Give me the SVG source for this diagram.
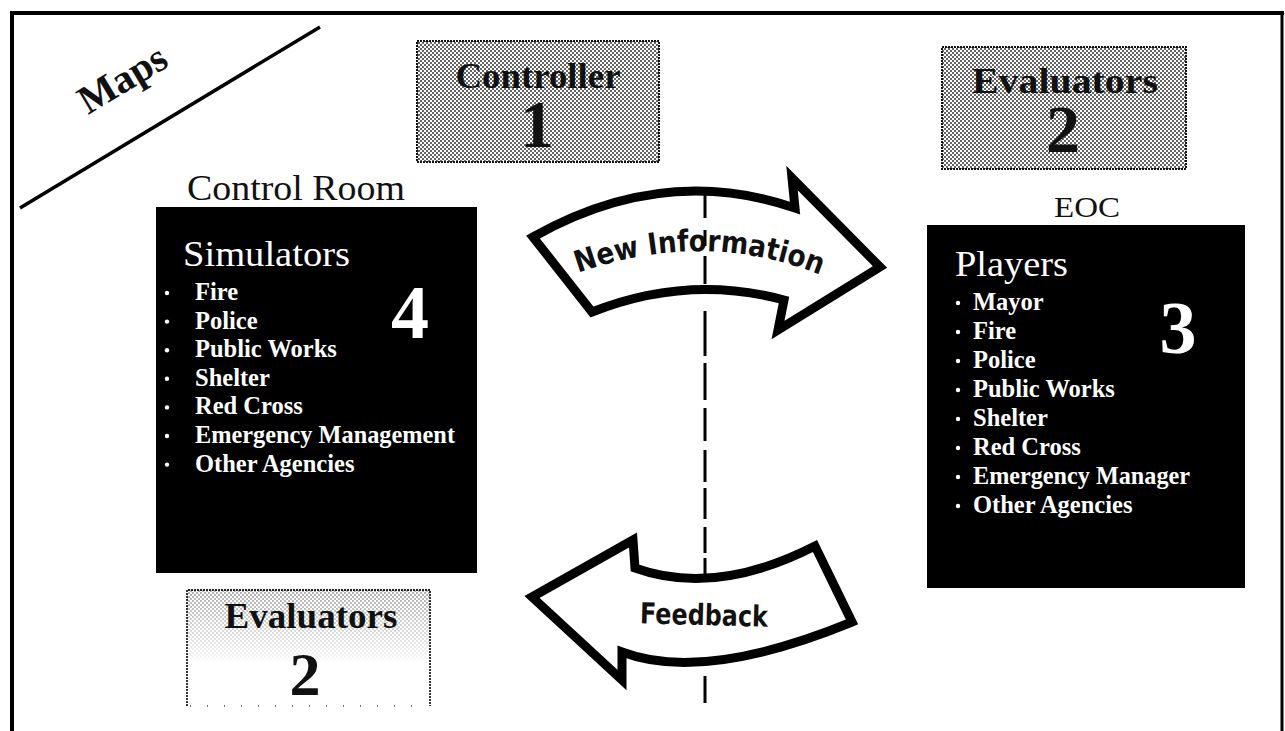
<svg xmlns="http://www.w3.org/2000/svg" width="1285" height="731" viewBox="0 0 1285 731">
<style>
.serif{font-family:"Liberation Serif","Times New Roman",serif}
.hdr{font-family:"Liberation Serif",serif;font-size:35px;font-weight:bold;fill:#111;text-anchor:middle}
.num{font-family:"Liberation Serif",serif;font-weight:bold;fill:#111;text-anchor:middle}
.wh{font-family:"Liberation Serif",serif;fill:#fff}
.item{font-family:"Liberation Serif",serif;font-size:24.5px;font-weight:bold;fill:#fff}
.box{fill:#000}
.ht{fill:url(#ht);stroke:#111;stroke-width:2;stroke-dasharray:2 1}
.arrow{fill:#fff;stroke:#000;stroke-width:9;stroke-linejoin:miter;stroke-miterlimit:10}
.atext{font-family:"DejaVu Sans",sans-serif;font-weight:bold;fill:#111}
.dash{stroke:#000;stroke-width:3}
</style>
<defs>
<pattern id="ht" width="4" height="4" patternUnits="userSpaceOnUse">
<rect width="4" height="4" fill="#fff"/>
<circle cx="1" cy="1" r="0.95" fill="#222"/>
<circle cx="3" cy="3" r="0.95" fill="#222"/>
</pattern>
<pattern id="htl" width="4" height="4" patternUnits="userSpaceOnUse">
<rect width="4" height="4" fill="#fff"/>
<circle cx="1" cy="1" r="0.9" fill="#888"/>
<circle cx="3" cy="3" r="0.9" fill="#888"/>
</pattern>
<linearGradient id="fade" x1="0" y1="0" x2="0" y2="1">
<stop offset="0" stop-color="#fff" stop-opacity="1"/>
<stop offset="0.65" stop-color="#fff" stop-opacity="0"/>
</linearGradient>
<mask id="fm" maskUnits="userSpaceOnUse" x="187" y="590" width="243" height="117">
<rect x="187" y="590" width="243" height="117" fill="url(#fade)"/>
</mask>
<path id="niPath" d="M578,273 Q707,227 828,278"/>
</defs>

<g id="frame" stroke="#000" fill="none">
<line x1="10" y1="13" x2="1284" y2="13" stroke-width="4"/>
<line x1="12" y1="11" x2="12" y2="731" stroke-width="4"/>
<line x1="1282" y1="13" x2="1282" y2="731" stroke-width="3"/>
</g>

<g id="maps">
<line x1="20" y1="208" x2="320" y2="27" stroke="#000" stroke-width="3.5"/>
<text class="serif" font-size="40" font-weight="bold" fill="#111" transform="translate(88,115) rotate(-31)" textLength="96" lengthAdjust="spacingAndGlyphs">Maps</text>
</g>

<g id="controller">
<rect class="ht" x="417" y="41" width="242" height="121"/>
<text class="hdr" x="538" y="88" textLength="165" lengthAdjust="spacingAndGlyphs">Controller</text>
<text class="num" x="537" y="147" font-size="68">1</text>
</g>

<g id="evaluators-top">
<rect class="ht" x="942" y="47" width="244" height="122"/>
<text class="hdr" x="1065" y="93" textLength="186" lengthAdjust="spacingAndGlyphs">Evaluators</text>
<text class="num" x="1063" y="152" font-size="68">2</text>
</g>

<g id="simulators">
<text class="serif" x="296" y="200" font-size="36" text-anchor="middle" fill="#111" textLength="218" lengthAdjust="spacingAndGlyphs">Control Room</text>
<rect class="box" x="156" y="207" width="321" height="366"/>
<text class="wh" x="183" y="266" font-size="36" textLength="167" lengthAdjust="spacingAndGlyphs">Simulators</text>
<text class="wh" x="410" y="338" font-size="76" font-weight="bold" text-anchor="middle">4</text>
<g fill="#fff">
<circle cx="167" cy="293" r="2.2"/><circle cx="167" cy="321.6" r="2.2"/><circle cx="167" cy="350.2" r="2.2"/><circle cx="167" cy="378.8" r="2.2"/><circle cx="167" cy="407.4" r="2.2"/><circle cx="167" cy="436" r="2.2"/><circle cx="167" cy="464.6" r="2.2"/>
</g>
<text class="item" x="195" y="300">Fire</text>
<text class="item" x="195" y="328.6">Police</text>
<text class="item" x="195" y="357.2">Public Works</text>
<text class="item" x="195" y="385.8">Shelter</text>
<text class="item" x="195" y="414.4">Red Cross</text>
<text class="item" x="195" y="443" textLength="260" lengthAdjust="spacingAndGlyphs">Emergency Management</text>
<text class="item" x="195" y="471.6">Other Agencies</text>
</g>

<g id="players">
<text class="serif" x="1087" y="217" font-size="30" text-anchor="middle" fill="#111" textLength="66" lengthAdjust="spacingAndGlyphs">EOC</text>
<rect class="box" x="927" y="225" width="318" height="363"/>
<text class="wh" x="955" y="276" font-size="36" textLength="113" lengthAdjust="spacingAndGlyphs">Players</text>
<text class="wh" x="1178" y="353" font-size="74" font-weight="bold" text-anchor="middle">3</text>
<g fill="#fff">
<circle cx="958" cy="303" r="2.2"/><circle cx="958" cy="332" r="2.2"/><circle cx="958" cy="361" r="2.2"/><circle cx="958" cy="390" r="2.2"/><circle cx="958" cy="419" r="2.2"/><circle cx="958" cy="448" r="2.2"/><circle cx="958" cy="477" r="2.2"/><circle cx="958" cy="506" r="2.2"/>
</g>
<text class="item" x="973" y="310">Mayor</text>
<text class="item" x="973" y="339">Fire</text>
<text class="item" x="973" y="368">Police</text>
<text class="item" x="973" y="397">Public Works</text>
<text class="item" x="973" y="426">Shelter</text>
<text class="item" x="973" y="455">Red Cross</text>
<text class="item" x="973" y="484" textLength="217" lengthAdjust="spacingAndGlyphs">Emergency Manager</text>
<text class="item" x="973" y="513">Other Agencies</text>
</g>

<g id="evaluators-bottom">
<rect x="187" y="590" width="243" height="117" fill="url(#htl)" mask="url(#fm)"/>
<path d="M187,706 V590 H430 V706" fill="none" stroke="#222" stroke-width="1.8" stroke-dasharray="2 1"/>
<line x1="190" y1="706" x2="428" y2="706" stroke="#444" stroke-width="1.5" stroke-dasharray="1 16"/>
<text class="hdr" x="311" y="628" textLength="173" lengthAdjust="spacingAndGlyphs">Evaluators</text>
<text class="num" x="305" y="695" font-size="62">2</text>
</g>

<g id="connectors">
<path class="arrow" d="M533,237 Q664,163 795,208 L792,178 L880,267 L778,330 L784,300 Q688,274 592,312 Z"/>
<text class="atext" font-size="30"><textPath href="#niPath" textLength="248" lengthAdjust="spacingAndGlyphs">New Information</textPath></text>
<path class="arrow" d="M532,597 L633,540 L635,568 Q715,597 815,546 L852,622 Q703,683 622,652 L622,680 Z"/>
<text class="atext" font-size="29" x="704" y="625" text-anchor="middle" textLength="128" lengthAdjust="spacingAndGlyphs" transform="rotate(1.5 704 615)">Feedback</text>
<g class="dash">
<line x1="705" y1="194" x2="705" y2="218"/>
<line x1="705" y1="230" x2="705" y2="246"/>
<line x1="705" y1="256" x2="705" y2="284"/>
<line x1="705" y1="311" x2="705" y2="356"/>
<line x1="705" y1="363" x2="705" y2="400"/>
<line x1="705" y1="408" x2="705" y2="441"/>
<line x1="705" y1="450" x2="705" y2="482"/>
<line x1="705" y1="488" x2="705" y2="519"/>
<line x1="705" y1="527" x2="705" y2="553"/>
<line x1="705" y1="558" x2="705" y2="578"/>
<line x1="705" y1="676" x2="705" y2="703"/>
</g>
</g>
</svg>
